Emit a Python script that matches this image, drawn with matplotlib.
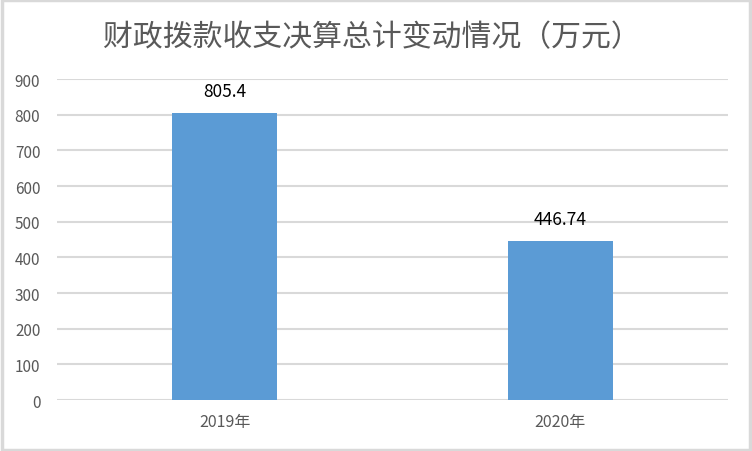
import matplotlib
matplotlib.use('Agg')
import matplotlib.pyplot as plt
from matplotlib.patches import Rectangle

plt.rcParams['font.family'] = ['Noto Sans CJK SC', 'DejaVu Sans']

years = ['2019年', '2020年']
totals = [805.4, 446.74]
total_labels = ['805.4', '446.74']
title = '财政拨款收支决算总计变动情况（万元）'

grey_text = '#595959'
grid_grey = '#d9d9d9'
bar_blue = '#5b9bd5'

fig = plt.figure(figsize=(7.52, 4.52), dpi=100)
ax = fig.add_axes([0.0758, 0.1128, 0.8922, 0.7102])

x = list(range(len(years)))
ax.bar(x, totals, width=0.313, color=bar_blue, zorder=3)

for xi, v, lab in zip(x, totals, total_labels):
    ax.annotate(lab, (xi, v), xytext=(0, 9), textcoords='offset points',
                ha='center', va='bottom', fontsize=12.5, color='black')

ax.set_xlim(-0.5, len(years) - 0.5)
ax.set_ylim(0, 900)
ax.set_yticks(range(0, 901, 100))
ax.set_xticks(x)
ax.set_xticklabels(years)
ax.tick_params(axis='both', length=0, labelsize=11, colors=grey_text)
ax.tick_params(axis='x', pad=9, labelsize=11.5)
ax.tick_params(axis='y', pad=12)
for lab in ax.get_yticklabels():
    lab.set_horizontalalignment('right')

ax.yaxis.grid(True, color=grid_grey, linewidth=1.5, zorder=0)
for s in ax.spines.values():
    s.set_visible(False)

fig.text(0.495, 0.916, title, ha='center', va='center', fontsize=21.5,
         color=grey_text)

fig.patches.append(Rectangle((0.002, 0.003), 0.996, 0.994, transform=fig.transFigure,
                             fill=False, edgecolor=grid_grey, linewidth=2.5))

fig.savefig('out.png', dpi=100)
